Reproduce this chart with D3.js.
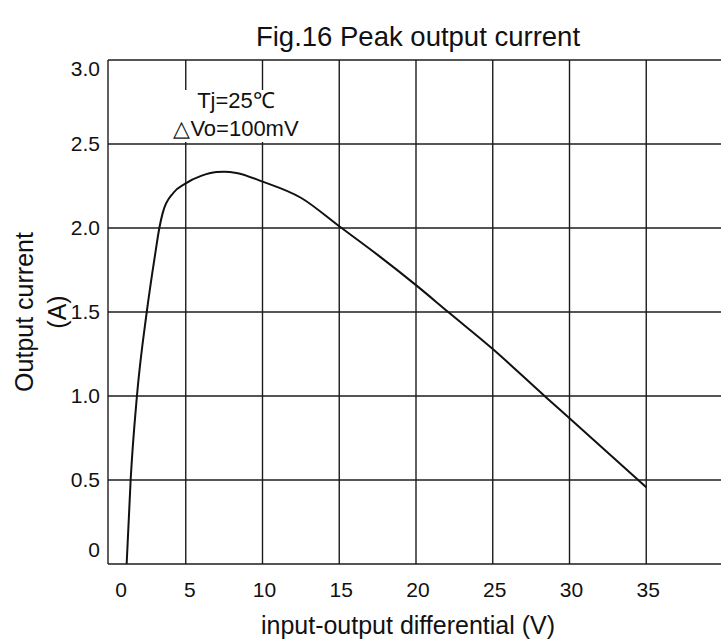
<!DOCTYPE html>
<html>
<head>
<meta charset="utf-8">
<script src="https://cdn.jsdelivr.net/npm/d3@7"></script>
<style>
  body { margin: 0; background: #fff; }
  text { font-family: "Liberation Sans", Arial, sans-serif; fill: #111; }
</style>
</head>
<body>
<div id="chart"></div>
<script>
// curve: input-output differential (V) vs output current (A)
var voltage = [1.15, 1.41, 1.82, 2.46, 3.0, 3.28, 3.5, 4.2, 5.0, 6.0, 7.0, 7.5, 8.3, 10, 12.5, 15, 17.5, 20, 22.1, 25, 28.5, 30, 35];
var current = [0, 0.5, 1.0, 1.5, 1.84, 2.0, 2.09, 2.21, 2.266, 2.31, 2.333, 2.335, 2.328, 2.276, 2.18, 2.01, 1.84, 1.66, 1.5, 1.28, 0.99, 0.868, 0.457];

var xTicks = [0, 5, 10, 15, 20, 25, 30, 35];
var xGrid = [5, 10, 15, 20, 25, 30, 35, 40];
var yTicks = [0, 0.5, 1.0, 1.5, 2.0, 2.5, 3.0];
var yTickLabels = ["0", "0.5", "1.0", "1.5", "2.0", "2.5", "3.0"];
var notes = ["Tj=25\u2103", "\u25B3Vo=100mV"];

var width = 721, height = 641;
var margin = {top: 60, right: -2, bottom: 77, left: 109};

var svg = d3.select("#chart").append("svg")
  .attr("width", width)
  .attr("height", height);

var x = d3.scaleLinear().domain([0, 40]).range([margin.left, width - margin.right]);
var y = d3.scaleLinear().domain([0, 3]).range([height - margin.bottom, margin.top]);

var grid = svg.append("g")
  .attr("stroke", "#1c1c1c")
  .attr("stroke-width", 1.4);

// horizontal lines (includes bottom axis and top border)
grid.selectAll("line.h").data(yTicks).enter().append("line")
  .attr("class", "h")
  .attr("x1", margin.left - 1).attr("x2", width)
  .attr("y1", function (d) { return y(d); })
  .attr("y2", function (d) { return y(d); });

grid.selectAll("line.v").data(xGrid).enter().append("line")
  .attr("class", "v")
  .attr("x1", function (d) { return x(d); })
  .attr("x2", function (d) { return x(d); })
  .attr("y1", y(3)).attr("y2", y(0));

// left axis line
grid.append("line")
  .attr("x1", margin.left - 1).attr("x2", margin.left - 1)
  .attr("y1", y(3)).attr("y2", y(0));

// the annotation sits on a white patch over the grid
svg.append("rect")
  .attr("x", 165).attr("y", 90)
  .attr("width", 142).attr("height", 52)
  .attr("fill", "#fff");

svg.selectAll("text.note").data(notes).enter().append("text")
  .attr("class", "note")
  .attr("x", 236)
  .attr("y", function (d, i) { return 108 + i * 28; })
  .attr("text-anchor", "middle")
  .style("font-size", "22px")
  .text(function (d) { return d; });

var line = d3.line()
  .x(function (d) { return x(d[0]); })
  .y(function (d) { return y(d[1]); })
  .curve(d3.curveMonotoneX);

svg.append("path")
  .datum(d3.zip(voltage, current))
  .attr("fill", "none")
  .attr("stroke", "#111")
  .attr("stroke-width", 2)
  .attr("d", line);

// tick labels
svg.selectAll("text.xt").data(xTicks).enter().append("text")
  .attr("class", "xt")
  .attr("x", function (d) { return x(d) + (d === 0 ? 12 : (d === 5 ? 4 : 2)); })
  .attr("y", 597)
  .attr("text-anchor", "middle")
  .style("font-size", "21px")
  .text(function (d) { return d; });

svg.selectAll("text.yt").data(yTicks).enter().append("text")
  .attr("class", "yt")
  .attr("x", 100)
  .attr("y", function (d) { return y(d) + (d === 0 ? -14 : (d === 3 ? 9 : 0)); })
  .attr("dy", "0.35em")
  .attr("text-anchor", "end")
  .style("font-size", "21px")
  .text(function (d, i) { return yTickLabels[i]; });

svg.append("text")
  .attr("x", 418).attr("y", 46)
  .attr("text-anchor", "middle")
  .style("font-size", "27.5px")
  .text("Fig.16 Peak output current");

svg.append("text")
  .attr("x", 408).attr("y", 634)
  .attr("text-anchor", "middle")
  .style("font-size", "25px")
  .text("input-output differential (V)");

var ytitle = svg.append("g")
  .attr("transform", "translate(33,312) rotate(-90)");

ytitle.append("text")
  .attr("text-anchor", "middle")
  .style("font-size", "25px")
  .text("Output current");

ytitle.append("text")
  .attr("y", 33)
  .attr("text-anchor", "middle")
  .style("font-size", "25px")
  .text("(A)");
</script>
</body>
</html>
